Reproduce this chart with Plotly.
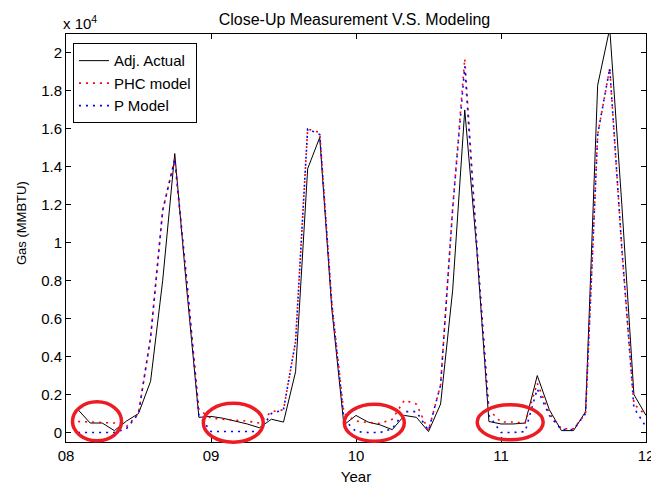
import plotly.graph_objects as go

# Month index (1..48) after Jan 2008; x = 8 + month/12
months = list(range(1, 49))

# Values in MMBTU
adj_actual = [1200, 500, 500, 100, 600, 1000, 2700, 8000, 14700, 7500, 800, 850,
              750, 600, 450, 250, 700, 550, 3200, 13900, 15550, 6500, 400, 900,
              550, 400, 150, 900, 800, 50, 1500, 7500, 17000, 9600, 580, 450,
              450, 500, 3000, 1200, 100, 100, 1100, 18300, 21300, 12000, 2000, 900]

phc_model = [580, 550, 530, 500, 300, 1000, 5000, 11700, 14400, 8000, 1200, 750,
             700, 650, 600, 500, 1100, 1200, 4800, 16000, 15800, 6800, 1000, 600,
             530, 470, 700, 1700, 1500, 100, 2500, 11800, 19700, 9800, 1200, 550,
             550, 500, 2600, 1000, 200, 200, 1000, 15700, 19200, 9700, 1500, 900]

p_model = [0, 0, 0, 0, 200, 1000, 5000, 11700, 14400, 8000, 900, 50,
           50, 50, 50, 50, 1000, 1200, 4800, 16000, 15700, 6800, 700, 50,
           0, 0, 200, 1100, 1100, 100, 2500, 11800, 19300, 9800, 900, 0,
           0, 50, 2300, 900, 150, 150, 1000, 15700, 19200, 9700, 1300, 300]

x_vals = [8 + m / 12 for m in months]

x_tickvals = [8, 9, 10, 11, 12]
x_ticktext = ["08", "09", "10", "11", "12"]
y_tickvals = [0, 2000, 4000, 6000, 8000, 10000, 12000, 14000, 16000, 18000, 20000]
y_ticktext = ["0", "0.2", "0.4", "0.6", "0.8", "1", "1.2", "1.4", "1.6", "1.8", "2"]

FONT = "Liberation Sans, Arial, sans-serif"

fig = go.Figure()
fig.add_trace(go.Scatter(x=x_vals, y=adj_actual, mode="lines", name="Adj. Actual",
                         line=dict(color="black", width=1)))
fig.add_trace(go.Scatter(x=x_vals, y=phc_model, mode="lines", name="PHC model",
                         line=dict(color="red", width=1.6, dash="2px,5px")))
fig.add_trace(go.Scatter(x=x_vals, y=p_model, mode="lines", name="P Model",
                         line=dict(color="blue", width=1.6, dash="2px,5px")))

# red hand-drawn ellipses (paper coordinates)
L, R, T, B = 66, 646, 33.5, 441.7
def px2paper(x, y):
    return (x - L) / (R - L), (B - y) / (B - T)

ellipses = [(97, 421, 24.5, 19.5), (233.3, 422.5, 30, 19.5),
            (374.3, 422.5, 30, 18.5), (510.2, 422, 33, 17.5)]
shapes = []
for cx, cy, hw, hh in ellipses:
    x0, y0 = px2paper(cx - hw, cy + hh)
    x1, y1 = px2paper(cx + hw, cy - hh)
    shapes.append(dict(type="circle", xref="paper", yref="paper",
                       x0=x0, x1=x1, y0=y0, y1=y1,
                       line=dict(color="#ED1C24", width=3.5)))

fig.update_layout(
    template="none",
    width=651, height=485,
    margin=dict(l=66, r=5, t=33.5, b=43.3, autoexpand=False),
    paper_bgcolor="white", plot_bgcolor="white",
    font=dict(family=FONT, size=15, color="black"),
    title=dict(text="Close-Up Measurement V.S. Modeling", x=0.5445, xanchor="center",
               xref="container", yref="container",
               y=0.961, yanchor="middle", font=dict(size=16)),
    showlegend=True,
    legend=dict(x=0.012, y=0.977, xanchor="left", yanchor="top",
                bgcolor="white", bordercolor="black", borderwidth=1,
                font=dict(size=15), tracegroupgap=0),
    shapes=shapes,
    annotations=[
        dict(text="x 10<sup>4</sup>", xref="paper", yref="paper",
             x=-0.008, y=1.0, xanchor="left", yanchor="bottom",
             showarrow=False, font=dict(size=15)),
        dict(text="Gas (MMBTU)", xref="paper", yref="paper",
             x=-0.0764, y=0.536, xanchor="center", yanchor="middle",
             textangle=-90, showarrow=False, font=dict(size=13)),
    ],
)
fig.update_xaxes(range=[8, 12], tickvals=x_tickvals, ticktext=x_ticktext,
                 ticks="inside", ticklen=5, tickcolor="black", showline=True,
                 linecolor="black", linewidth=1, mirror="ticks", showgrid=False,
                 zeroline=False, automargin=False, ticklabeloverflow="allow",
                 title=dict(text="Year", font=dict(size=15)))
fig.update_yaxes(range=[-500, 21000], tickvals=y_tickvals, ticktext=y_ticktext,
                 ticks="inside", ticklen=5, tickcolor="black", showline=True,
                 linecolor="black", linewidth=1, mirror="ticks", showgrid=False,
                 zeroline=False, automargin=False)

fig.write_html("out.html", config={"displayModeBar": False},
               post_script="document.body.style.margin='0';document.body.style.overflow='hidden';")
